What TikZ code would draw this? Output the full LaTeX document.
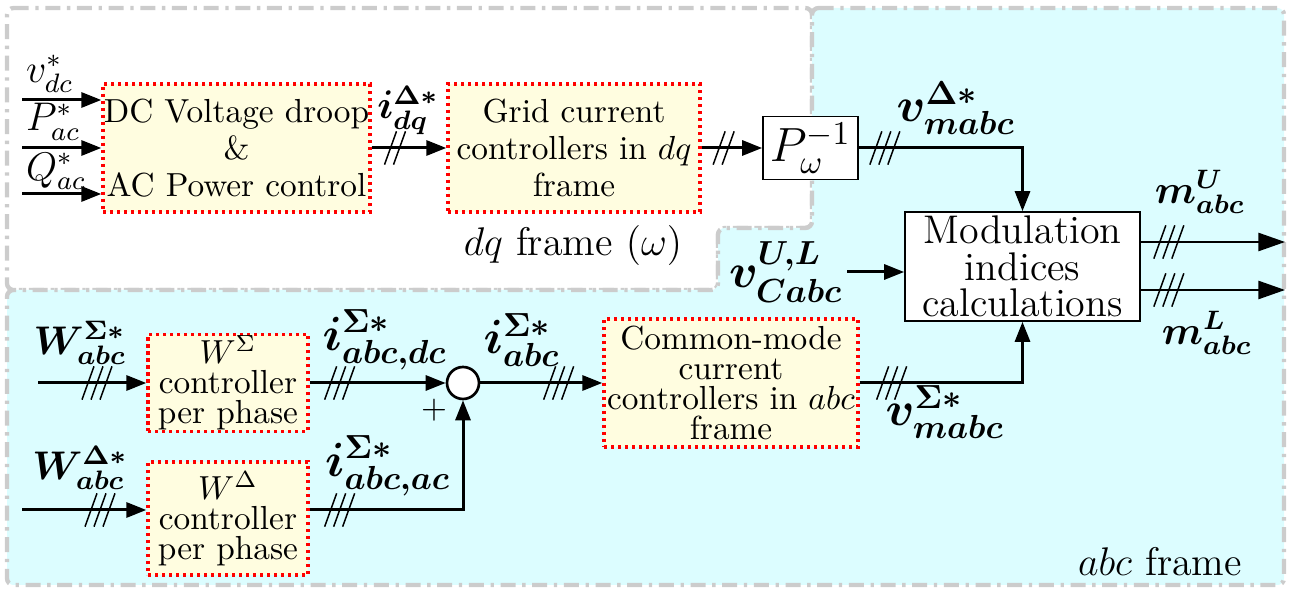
\documentclass[tikz,border=0pt]{standalone}
\usepackage{amsmath,bm}
\usepackage{xcolor}
\usetikzlibrary{positioning, arrows.meta, decorations.markings}

\definecolor{abcbg}{RGB}{220,253,255}
\definecolor{ctrlbg}{RGB}{255,253,224}

\begin{document}
\begin{tikzpicture}[x=0.3pt, y=0.3pt,
		ctrlbox/.style={rectangle, draw=red, line width=1pt, dash pattern=on 1pt off 1.1pt, fill=ctrlbg, align=center, inner sep=0pt, font={\fontsize{10}{11}\selectfont}},
		plainbox/.style={rectangle, draw, line width=0.5pt, fill=white, align=center, inner sep=0pt},
		frameline/.style={draw=black!20, line width=1.3pt, dash pattern=on 4.5pt off 2pt on 1pt off 2pt, rounded corners=2pt},
		sig/.style={line width=0.9pt, -{Triangle[length=6pt, width=4.5pt]}},
		outsig/.style={line width=0.45pt, -{Triangle[length=8pt, width=5.5pt]}},
		lbl/.style={inner sep=1pt},
		bus2/.style={postaction={decorate, decoration={markings, mark=at position #1 with {\draw[-, line width=0.45pt] (-3.15pt,-5pt) -- (0.45pt,5pt) (-0.45pt,-5pt) -- (3.15pt,5pt);}}}},
		bus3/.style={postaction={decorate, decoration={markings, mark=at position #1 with {\draw[-, line width=0.45pt] (-4.5pt,-5pt) -- (-0.9pt,5pt) (-1.8pt,-5pt) -- (1.8pt,5pt) (0.9pt,-5pt) -- (4.5pt,5pt);}}}}]
		\useasboundingbox (0,0) rectangle (1299,590);
		% frames
		\draw[frameline, fill=white] (7,582) -- (812,582) -- (812,362) -- (718,362) -- (718,300) -- (7,300) -- cycle;
		\draw[frameline, fill=abcbg] (812,582) -- (1284,582) -- (1284,5) -- (7,5) -- (7,300) -- (718,300) -- (718,362) -- (812,362) -- cycle;
		\node[font=\large] (dqlabel) at (573,344) {$dq$ frame $(\omega)$};
		\node[font=\large] (abclabel) at (1160,28) {$abc$ frame};
		
		% blocks
		\node[ctrlbox, minimum width=80.1pt, minimum height=38.4pt] (dcctrl) at (236.5,442) {DC Voltage droop\\\&\\AC Power control};
		\node[ctrlbox, minimum width=75.6pt, minimum height=38.4pt] (gridctrl) at (574,442) {Grid current\\controllers in $dq$\\frame};
		\node[plainbox, minimum width=28.5pt, minimum height=18.9pt, font=\Large] (pinv) at (810.5,442) {$P_\omega^{-1}$};
		\node[plainbox, minimum width=70.5pt, minimum height=32.7pt, font={\fontsize{12}{11}\selectfont}] (modcalc) at (1022.5,323.5) {Modulation\\indices\\calculations};
		\node[ctrlbox, minimum width=48pt, minimum height=29.1pt, font={\fontsize{10}{9}\selectfont}] (wsig) at (228,207) {$W^\Sigma$\\controller\\per phase};
		\node[ctrlbox, minimum width=48pt, minimum height=33.9pt, font={\fontsize{10}{9}\selectfont}] (wdel) at (228,71.5) {$W^\Delta$\\controller\\per phase};
		\node[circle, draw, line width=0.8pt, fill=white, minimum size=9.6pt, inner sep=0pt] (summ) at (463,207) {};
		\node[ctrlbox, minimum width=76.2pt, minimum height=38.4pt, font={\fontsize{10}{9}\selectfont}] (cmctrl) at (731,207) {Common-mode\\current\\controllers in $abc$\\frame};
		
		\coordinate (vin) at (22,490);
		\coordinate (pin) at (22,442);
		\coordinate (qin) at (22,396);
		\coordinate (wsigin) at (38,207);
		\coordinate (wdelin) at (22,80);
		\coordinate (muend) at (1285,348);
		\coordinate (mlend) at (1285,300);
		
		% signal labels
		\node[lbl, font=\large, above right=1pt and 0pt of vin] (vdc) {$v_{dc}^*$};
		\node[lbl, font=\large, above right=1pt and 0pt of pin] (pac) {$P_{ac}^*$};
		\node[lbl, font=\large, above right=0pt and 0pt of qin] (qac) {$Q_{ac}^*$};
		\node[lbl, font=\large] (idq) at (408,480) {$\bm{i_{dq}^{\Delta *}}$};
		\node[lbl, font=\Large] (vdelta) at (956,482) {$\bm{v_{mabc}^{\Delta *}}$};
		\node[lbl, font=\Large] (vcap) at (786,318) {$\bm{v_{Cabc}^{U,L}}$};
		\node[lbl, font=\large] (mu) at (1200,398) {$\bm{m_{abc}^{U}}$};
		\node[lbl, font=\large] (ml) at (1207,257) {$\bm{m_{abc}^{L}}$};
		\node[lbl, font=\large] (wsigref) at (80,247) {$\bm{W_{abc}^{\Sigma *}}$};
		\node[lbl, font=\large] (wdelref) at (80,122) {$\bm{W_{abc}^{\Delta *}}$};
		\node[lbl, font=\Large] (idc) at (385,250) {$\bm{i_{abc,dc}^{\Sigma *}}$};
		\node[lbl, font=\Large] (iac) at (388,124) {$\bm{i_{abc,ac}^{\Sigma *}}$};
		\node[lbl, font=\Large] (isig) at (522,250) {$\bm{i_{abc}^{\Sigma *}}$};
		\node[lbl] (plus) at (434,180) {$+$};
		\node[lbl, font=\Large] (vsigma) at (945,178) {$\bm{v_{mabc}^{\Sigma *}}$};
		
		% connections
		\draw[sig] (vin) -- (vin -| dcctrl.west);
		\draw[sig] (pin) -- (pin -| dcctrl.west);
		\draw[sig] (qin) -- (qin -| dcctrl.west);
		\draw[sig, bus2=7pt] (dcctrl) -- (gridctrl);
		\draw[sig, bus2=6.6pt] (gridctrl) -- (pinv);
		\draw[sig, bus3=7.8pt] (pinv) -| (modcalc);
		\draw[sig] (vcap) -- (vcap -| modcalc.west);
		\draw[outsig, bus3=8.4pt] (muend -| modcalc.east) -- (muend);
		\draw[outsig, bus3=8.4pt] (mlend -| modcalc.east) -- (mlend);
		\draw[sig, bus3=17.7pt] (wsigin) -- (wsig);
		\draw[sig, bus3=23.4pt] (wdelin) -- (wdelin -| wdel.west);
		\draw[sig, bus3=9pt] (wsig) -- (summ);
		\draw[sig, bus3=9pt] (wdelin -| wdel.east) -| (summ);
		\draw[sig, bus3=23.5pt] (summ) -- (cmctrl);
		\draw[sig, bus3=9.6pt] (cmctrl) -| (modcalc);
\end{tikzpicture}
\end{document}
